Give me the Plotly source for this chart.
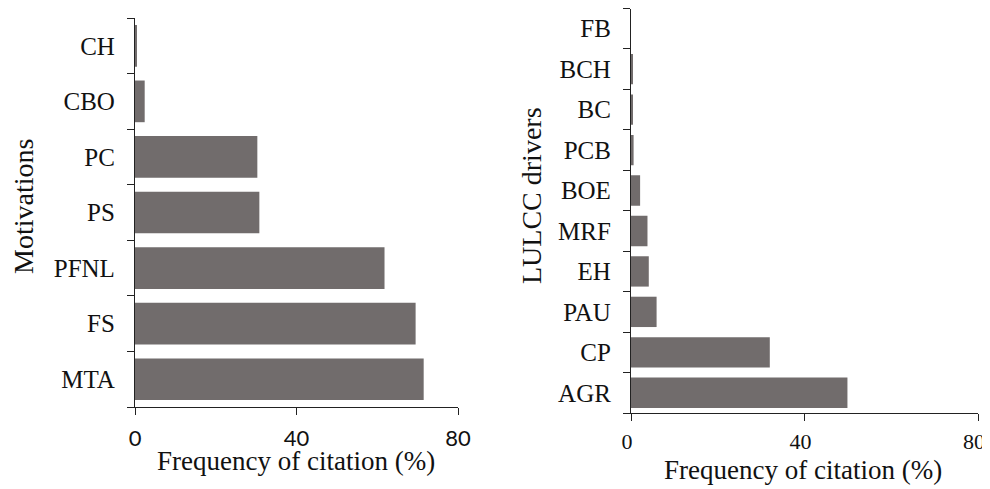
import plotly.graph_objects as go

mot_cats = ["MTA", "FS", "PFNL", "PS", "PC", "CBO", "CH"]
mot_vals = [71.5, 69.5, 61.8, 30.8, 30.3, 2.4, 0.3]

drv_cats = ["AGR", "CP", "PAU", "EH", "MRF", "BOE", "PCB", "BC", "BCH", "FB"]
drv_vals = [49.9, 32.0, 5.9, 4.1, 3.8, 2.1, 0.6, 0.4, 0.4, 0.0]

x_ticks = [0, 40, 80]
bar_color = "#716c6c"
serif = "Liberation Serif"

# The page body has an 8px default margin, so the figure is offset by 8px.
OFF = 8
W, H = 990 - OFF, 489 - OFF


def fx(px):
    return min(1.0, max(0.0, (px - OFF) / W))


def fy(py):
    return min(1.0, max(0.0, 1 - (py - OFF) / H))


fig = go.Figure()
fig.add_trace(go.Bar(y=mot_cats, x=mot_vals, orientation="h", marker_color=bar_color,
                     marker_line_width=0, xaxis="x", yaxis="y", showlegend=False))
fig.add_trace(go.Bar(y=drv_cats, x=drv_vals, orientation="h", marker_color=bar_color,
                     marker_line_width=0, xaxis="x2", yaxis="y2", showlegend=False))

axis_common = dict(showgrid=False, zeroline=False, showline=True, linecolor="#222",
                   linewidth=1.2, ticks="outside", tickcolor="#222", ticklen=7, tickwidth=1.2,
                   automargin=False)

fig.update_layout(
    width=W, height=H, margin=dict(l=0, r=0, t=0, b=0, pad=0),
    paper_bgcolor="white", plot_bgcolor="white", bargap=0.25,
    xaxis=dict(domain=[fx(135), fx(458)], range=[0, 80], tickvals=x_ticks, anchor="y",
               tickfont=dict(family="Lato", size=22, color="#111"), ticklabelstandoff=4, **axis_common),
    yaxis=dict(domain=[fy(407), fy(18)], anchor="x", type="category", tickson="boundaries",
               tickfont=dict(family=serif, size=25, color="#111"), ticklabelstandoff=14, **axis_common),
    xaxis2=dict(domain=[fx(631), fx(978)], range=[0, 80], tickvals=x_ticks, anchor="y2",
                tickfont=dict(family=serif, size=22, color="#111"), ticklabelstandoff=1,
                ticklabelshift=-4, **axis_common),
    yaxis2=dict(domain=[fy(413), fy(8.5)], anchor="x2", type="category", tickson="boundaries",
                tickfont=dict(family=serif, size=25, color="#111"), ticklabelstandoff=14, **axis_common),
)

ann_font = dict(family=serif, size=27, color="#111")
rot_font = dict(family=serif, size=28, color="#111")
fig.add_annotation(text="Motivations", x=fx(23), y=fy(207), xref="paper", yref="paper",
                   textangle=-90, showarrow=False, font=rot_font, xanchor="center", yanchor="middle")
fig.add_annotation(text="LULCC drivers", x=fx(531), y=fy(196), xref="paper", yref="paper",
                   textangle=-90, showarrow=False, font=rot_font, xanchor="center", yanchor="middle")
fig.add_annotation(text="Frequency of citation (%)", x=fx(296), y=fy(461), xref="paper", yref="paper",
                   showarrow=False, font=ann_font, xanchor="center", yanchor="middle")
fig.add_annotation(text="Frequency of citation (%)", x=fx(803), y=fy(470), xref="paper", yref="paper",
                   showarrow=False, font=ann_font, xanchor="center", yanchor="middle")

fig.write_html("out.html")
